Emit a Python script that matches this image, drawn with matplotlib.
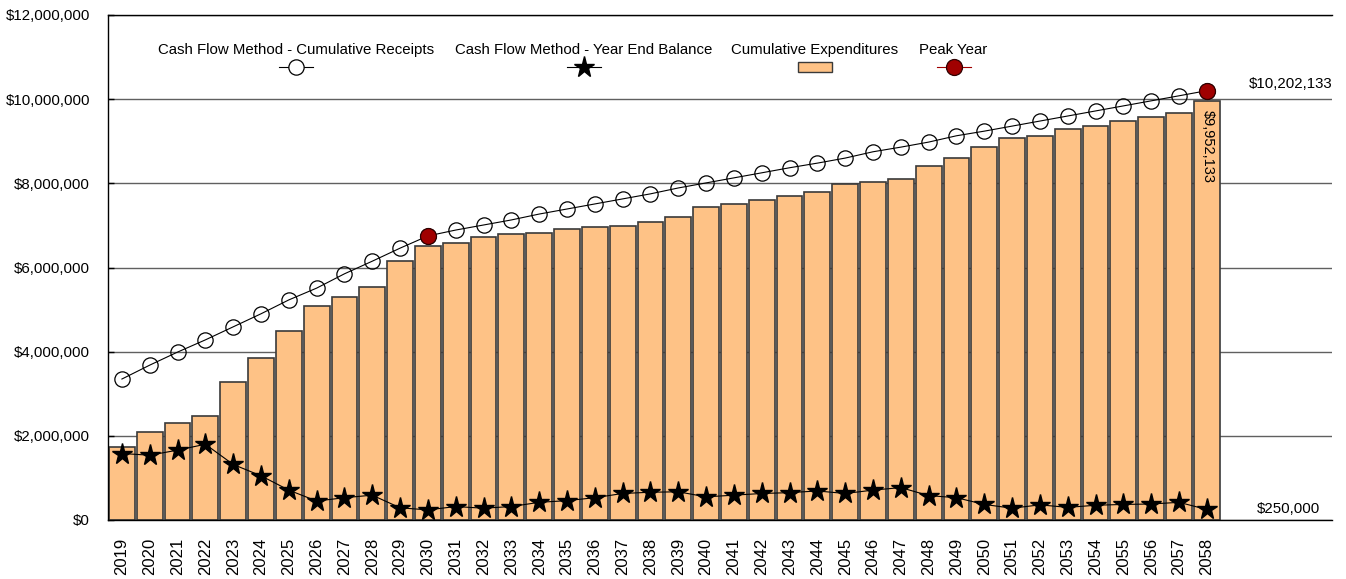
import matplotlib
matplotlib.use("Agg")
import matplotlib.pyplot as plt
from matplotlib.patches import Rectangle
from matplotlib.ticker import FuncFormatter
import numpy as np

plt.rcParams['font.family'] = ['Liberation Sans', 'DejaVu Sans']

years = list(range(2019, 2059))
year_labels = [str(y) for y in years]

cumulative_expenditures = [
    1.74, 2.10, 2.30, 2.48, 3.28, 3.85, 4.49, 5.08, 5.30, 5.54,
    6.15, 6.51, 6.58, 6.72, 6.80, 6.82, 6.92, 6.96, 6.99, 7.08,
    7.20, 7.44, 7.51, 7.60, 7.70, 7.79, 7.98, 8.03, 8.10, 8.41,
    8.60, 8.86, 9.08, 9.13, 9.29, 9.36, 9.48, 9.58, 9.67, 9.952133,
]
cumulative_receipts = [
    3.35, 3.68, 3.99, 4.28, 4.59, 4.90, 5.23, 5.51, 5.85, 6.15,
    6.46, 6.75, 6.89, 7.01, 7.13, 7.27, 7.39, 7.51, 7.63, 7.75,
    7.89, 8.01, 8.13, 8.25, 8.37, 8.48, 8.60, 8.75, 8.86, 8.98,
    9.13, 9.24, 9.36, 9.48, 9.60, 9.72, 9.84, 9.96, 10.08, 10.202133,
]
year_end_balance = [
    1.58, 1.54, 1.66, 1.80, 1.32, 1.05, 0.71, 0.45, 0.53, 0.59,
    0.29, 0.24, 0.32, 0.28, 0.32, 0.42, 0.46, 0.53, 0.63, 0.66,
    0.67, 0.55, 0.59, 0.63, 0.65, 0.69, 0.63, 0.71, 0.77, 0.58,
    0.53, 0.37, 0.28, 0.36, 0.30, 0.35, 0.37, 0.38, 0.42, 0.25,
]
peak_years = [2030, 2058]
peak_values = [6.75, 10.202133]

ann_receipts = "$10,202,133"
ann_expend = "$9,952,133"
ann_balance = "$250,000"

legend_labels = ["Cash Flow Method - Cumulative Receipts",
                 "Cash Flow Method - Year End Balance",
                 "Cumulative Expenditures", "Peak Year"]

M = 1e6
bar_color = '#FEC286'
peak_color = '#A00000'
bar_edge = '#3a3a3a'

fig = plt.figure(figsize=(13.46, 5.79), dpi=100)
ax = fig.add_axes([108/1346, 1-520/579, 1224/1346, 505/579])

x = np.arange(len(years))
exp = np.array(cumulative_expenditures) * M
rec = np.array(cumulative_receipts) * M
bal = np.array(year_end_balance) * M
px = np.array([years.index(y) for y in peak_years])
pv = np.array(peak_values) * M

ax.set_axisbelow(True)
ax.yaxis.grid(True, color='#606060', linewidth=1.0)
ax.bar(x, exp, width=0.93, color=bar_color, edgecolor=bar_edge, linewidth=1.2, zorder=2)
ax.plot(x, rec, color='black', linewidth=0.8, marker='o', markersize=11,
        markerfacecolor='none', markeredgecolor='black', markeredgewidth=0.9, zorder=4)
ax.plot(x, bal, color='black', linewidth=0.8, marker='*', markersize=15.5,
        markerfacecolor='black', markeredgecolor='black', zorder=4)
ax.plot(px, pv, linestyle='none', marker='o', markersize=11.5,
        markerfacecolor=peak_color, markeredgecolor='#300000', markeredgewidth=0.9, zorder=5)

ax.set_xlim(-0.5, 43.5)
ax.set_ylim(0, 12e6)
ax.set_yticks(np.arange(0, 12e6 + 1, 2e6))
ax.yaxis.set_major_formatter(FuncFormatter(lambda v, p: f"${v:,.0f}"))
ax.set_xticks(x)
ax.set_xticklabels(year_labels, rotation=90, fontsize=12)
ax.tick_params(axis='x', length=0, pad=13)
ax.tick_params(axis='y', direction='in', length=4, width=1, pad=13, labelsize=10.8, colors='black')

for s in ['top', 'left', 'bottom']:
    ax.spines[s].set_color('black')
    ax.spines[s].set_linewidth(1.0)
ax.spines['right'].set_visible(False)

# annotations
ax.text(1.0, 10.202133 * M, ann_receipts, transform=ax.get_yaxis_transform(),
        ha='right', va='bottom', fontsize=10.8)
ax.text(1.0 - 12/1224, 0.25 * M, ann_balance, transform=ax.get_yaxis_transform(),
        ha='right', va='center', fontsize=10.8)
ax.text(x[-1] + 0.05, exp[-1] - 0.2 * M, ann_expend, rotation=270,
        ha='center', va='top', fontsize=10.5)

# custom legend (text above handle)
ty = 0.9307
hy = 0.897
centers = [0.154, 0.3885, 0.5776, 0.6908]
for c, lab in zip(centers, legend_labels):
    ax.text(c, ty, lab, transform=ax.transAxes, ha='center', va='center', fontsize=10.8)
hw = 17/1224
ax.plot([centers[0]-hw, centers[0]+hw], [hy, hy], transform=ax.transAxes, color='black',
        linewidth=0.8, zorder=6)
ax.plot([centers[0]], [hy], transform=ax.transAxes, marker='o', markersize=11,
        markerfacecolor='white', markeredgecolor='black', markeredgewidth=0.9, zorder=6)
ax.plot([centers[1]-hw, centers[1]+hw], [hy, hy], transform=ax.transAxes, color='black',
        linewidth=0.8, zorder=6)
ax.plot([centers[1]], [hy], transform=ax.transAxes, marker='*', markersize=15.5,
        color='black', zorder=6)
ax.add_patch(Rectangle((centers[2]-hw, hy-5/505), 2*hw, 10/505, transform=ax.transAxes,
                       facecolor=bar_color, edgecolor=bar_edge, linewidth=1.0, zorder=6))
ax.plot([centers[3]-hw, centers[3]+hw], [hy, hy], transform=ax.transAxes, color=peak_color,
        linewidth=0.8, zorder=6)
ax.plot([centers[3]], [hy], transform=ax.transAxes, marker='o', markersize=11.5,
        markerfacecolor=peak_color, markeredgecolor='#300000', markeredgewidth=0.9, zorder=6)

fig.savefig("out.png", dpi=100)
